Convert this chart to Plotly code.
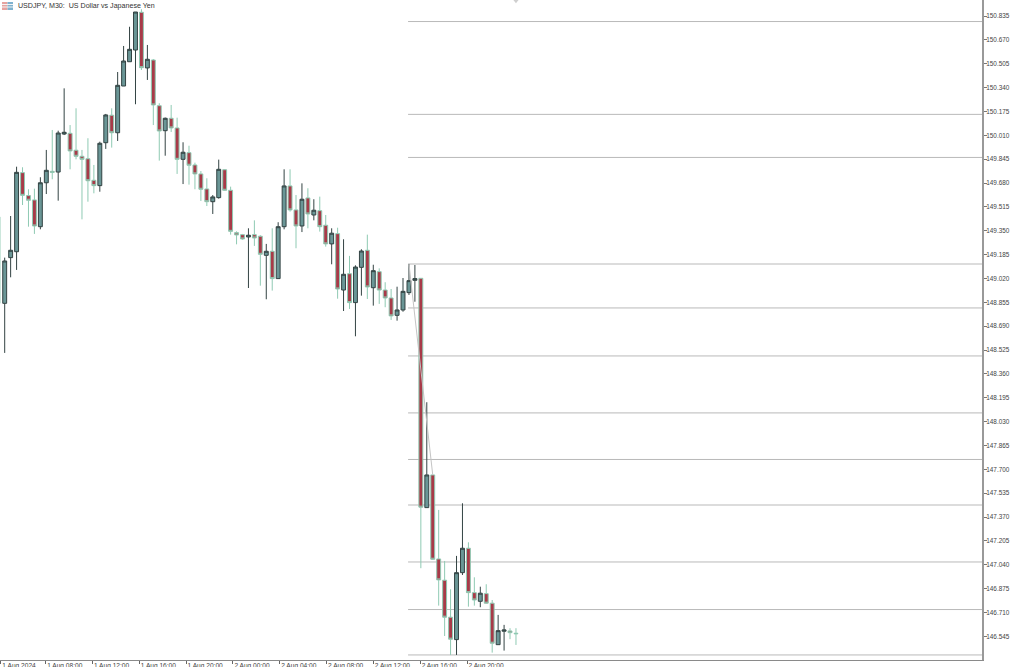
import plotly.graph_objects as go

# Prices (M30 candles, oldest first)
high = [149.164,149.452,149.793,149.789,149.637,149.641,149.720,149.909,150.047,150.042,150.335,150.081,150.197,149.909,149.990,149.805,149.966,150.158,150.197,150.448,150.628,150.761,150.863,150.882,150.635,150.538,150.232,150.133,150.220,150.132,149.962,149.938,149.821,149.763,149.713,149.597,149.842,149.775,149.655,149.346,149.328,149.367,149.422,149.319,149.259,149.367,149.409,149.775,149.775,149.597,149.678,149.644,149.568,149.586,149.459,149.367,149.371,149.291,149.176,149.111,149.222,149.323,149.115,149.090,148.994,148.947,148.963,149.023,149.120,149.113,149.021,148.164,147.661,147.419,147.066,146.870,147.101,147.465,147.195,146.953,146.888,146.905,146.796,146.693,146.624,146.601,146.601]
low = [148.505,149.028,149.079,149.528,149.378,149.328,149.360,149.604,149.706,149.558,150.012,149.775,149.844,149.429,149.551,149.609,149.620,149.916,149.925,149.971,150.351,150.519,150.225,150.462,150.393,150.081,149.835,149.869,150.033,149.743,149.673,149.669,149.637,149.556,149.521,149.466,149.572,149.627,149.323,149.256,149.288,148.954,149.245,148.970,148.876,148.936,149.019,149.360,149.482,149.229,149.341,149.367,149.422,149.344,149.240,149.118,148.880,148.795,148.809,148.620,148.901,148.878,148.832,148.844,148.821,148.733,148.728,148.790,148.906,148.859,147.016,147.435,147.073,146.757,146.547,146.416,146.416,146.969,146.750,146.757,146.746,146.769,146.432,146.487,146.446,146.525,146.485]
open_ = [148.848,149.164,149.205,149.752,149.593,149.563,149.378,149.682,149.761,149.756,150.019,150.024,149.907,149.865,149.848,149.699,149.662,149.959,150.149,150.028,150.351,150.519,150.600,150.861,150.476,150.531,150.215,150.042,150.128,150.061,149.844,149.890,149.805,149.743,149.639,149.551,149.579,149.772,149.630,149.337,149.323,149.307,149.323,149.312,149.180,149.208,149.019,149.378,149.660,149.494,149.383,149.577,149.459,149.489,149.388,149.259,149.330,148.940,149.053,148.853,149.097,149.215,148.956,149.067,148.940,148.885,148.765,148.802,148.922,149.007,149.021,147.435,147.661,147.080,146.933,146.677,146.522,146.985,147.154,146.847,146.787,146.840,146.774,146.487,146.580,146.582,146.566]
close = [149.141,149.215,149.754,149.595,149.561,149.383,149.682,149.768,149.754,150.026,150.031,149.902,149.865,149.844,149.696,149.662,149.955,150.151,150.028,150.356,150.524,150.605,150.863,150.478,150.536,150.220,150.040,150.128,150.061,149.844,149.893,149.803,149.743,149.637,149.551,149.584,149.775,149.630,149.346,149.321,149.293,149.319,149.300,149.187,149.208,149.019,149.378,149.660,149.494,149.383,149.568,149.466,149.492,149.378,149.259,149.333,148.947,149.049,148.853,149.099,149.210,148.961,149.074,148.940,148.885,148.761,148.802,148.931,149.005,149.019,147.438,147.661,147.078,146.935,146.677,146.525,146.985,147.154,146.847,146.796,146.843,146.774,146.497,146.584,146.589,146.570,146.563]
candle_index = list(range(len(close)))

# Wick of the candle cut off by the left edge
edge_index = [-0.8, -0.8]
edge_wick = [149.446, 148.848]

# Horizontal levels drawn on the right part of the chart
levels = [150.797,150.155,149.857,149.120,148.816,148.484,148.090,147.768,147.453,147.059,146.730,146.416]
levels_start = 67.85

# Diagonal trend line
trend_index = [68, 72]
trend_price = [149.120, 147.661]

# Marker at the top of the chart
top_mark_index = [86]
top_mark_price = [150.94]

# Price axis
price_ticks = [150.835,150.670,150.505,150.340,150.175,150.010,149.845,149.680,149.515,149.350,149.185,149.020,148.855,148.690,148.525,148.360,148.195,148.030,147.865,147.700,147.535,147.370,147.205,147.040,146.875,146.710,146.545]
price_labels = [f"{p:.3f}" for p in price_ticks]

# Time axis
time_ticks = [-0.78,6.9,14.78,22.65,30.52,38.4,46.27,54.15,62.02,69.9,77.78]
time_labels = ["1 Aug 2024","1 Aug 08:00","1 Aug 12:00","1 Aug 16:00","1 Aug 20:00","2 Aug 00:00","2 Aug 04:00","2 Aug 08:00","2 Aug 12:00","2 Aug 16:00","2 Aug 20:00"]

title_text = "USDJPY, M30:  US Dollar vs Japanese Yen"

W, H = 1024, 667
ML, MR, MT, MB = 0, 42, 0, 7
PW, PH = W - ML - MR, H - MT - MB
FONT = "Liberation Sans"

def px(x): return x / PW
def py(y): return 1 - y / PH

fig = go.Figure()

fig.add_trace(go.Scatter(x=trend_index, y=trend_price, mode="lines",
                         line=dict(color="#c4c4c4", width=1), hoverinfo="skip", showlegend=False))
fig.add_trace(go.Scatter(x=edge_index, y=edge_wick, mode="lines",
                         line=dict(color="#8fcab3", width=1), hoverinfo="skip", showlegend=False))
fig.add_trace(go.Candlestick(
    x=candle_index, open=open_, high=high, low=low, close=close,
    increasing=dict(line=dict(color="#334343", width=1), fillcolor="#6a9696"),
    decreasing=dict(line=dict(color="#8fcab3", width=1), fillcolor="#a83a48"),
    whiskerwidth=0, showlegend=False))
fig.add_trace(go.Scatter(x=top_mark_index, y=top_mark_price, mode="markers",
                         marker=dict(symbol="triangle-down", size=5, color="#cfcfcf"),
                         hoverinfo="skip", showlegend=False))

shapes = [dict(type="line", xref="x", yref="y", x0=levels_start, x1=164.4, y0=l, y1=l,
               line=dict(color="#b9b9b9", width=1), layer="below") for l in levels]

# Small table icon beside the title
shapes += [
    dict(type="rect", xref="paper", yref="paper", x0=px(2), x1=px(7.5), y0=py(10), y1=py(2),
         fillcolor="#e6a3a0", line=dict(width=0)),
    dict(type="rect", xref="paper", yref="paper", x0=px(7.5), x1=px(13), y0=py(10), y1=py(2),
         fillcolor="#7fb2cf", line=dict(width=0)),
]
for yy in (4.5, 7):
    shapes.append(dict(type="line", xref="paper", yref="paper", x0=px(2), x1=px(13), y0=py(yy), y1=py(yy),
                       line=dict(color="#f4f4f4", width=1)))

fig.update_layout(
    template="none",
    width=W, height=H,
    margin=dict(l=ML, r=MR, t=MT, b=MB, pad=0),
    paper_bgcolor="white", plot_bgcolor="white",
    boxgap=0.06,
    shapes=shapes,
    showlegend=False,
    font=dict(family=FONT, size=7, color="#444444"),
    annotations=[dict(text=title_text, xref="paper", yref="paper", x=px(15.5), y=py(6),
                      xanchor="left", yanchor="middle", showarrow=False,
                      font=dict(family=FONT, size=7.1, color="#333333"))],
    xaxis=dict(range=[-0.79, 164.39], rangeslider=dict(visible=False), showgrid=False, zeroline=False,
               automargin=False,
               tickmode="array", tickvals=time_ticks, ticktext=time_labels,
               ticks="outside", ticklen=3, tickcolor="#666666", tickwidth=1,
               showline=True, linecolor="#8a8a8a", linewidth=1,
               ticklabelshift=19, ticklabelstandoff=-4, tickangle=0,
               tickfont=dict(family=FONT, size=6.6, color="#444444")),
    yaxis=dict(range=[146.381, 150.946], side="right", showgrid=False, zeroline=False,
               automargin=False,
               tickmode="array", tickvals=price_ticks, ticktext=price_labels,
               ticks="outside", ticklen=3, tickcolor="#777777", tickwidth=1,
               showline=True, linecolor="#999999", linewidth=2,
               ticklabelstandoff=-2,
               tickfont=dict(family=FONT, size=6.4, color="#444444")),
)

fig.write_html("out.html", config=dict(displayModeBar=False),
               post_script="document.body.style.margin='0';document.documentElement.style.overflow='hidden';")
